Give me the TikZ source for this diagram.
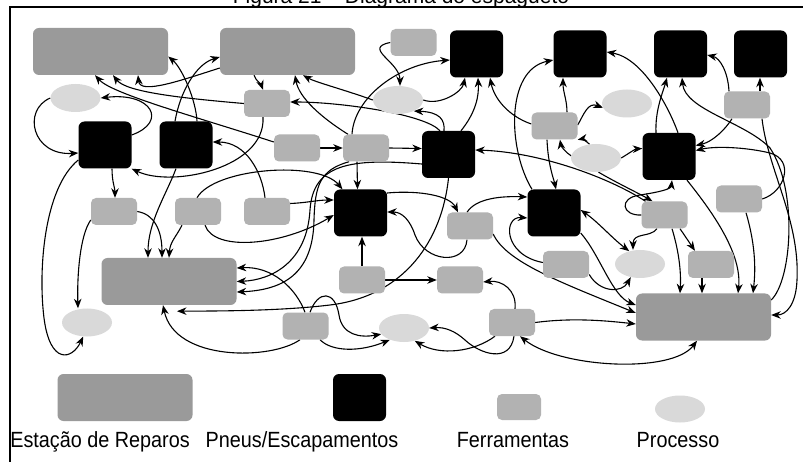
\documentclass[tikz,border=0pt]{standalone}
\usepackage{fontspec}
\setmainfont{Liberation Sans}
\newfontfamily\legendfont[FakeStretch=0.9]{Liberation Sans}
\usetikzlibrary{arrows.meta,shapes.geometric,backgrounds}
\definecolor{repgray}{HTML}{9A9A9A}
\definecolor{toolgray}{HTML}{B2B2B2}
\definecolor{procgray}{HTML}{D9D9D9}
\tikzset{
  rep/.style={fill=repgray, rounded corners=6pt, minimum width=135pt, minimum height=47pt, inner sep=0pt},
  pn/.style={fill=black, rounded corners=6pt, minimum width=53pt, minimum height=47pt, inner sep=0pt},
  tool/.style={fill=toolgray, rounded corners=5pt, minimum width=46pt, minimum height=27pt, inner sep=0pt},
  proc/.style={ellipse, fill=procgray, minimum width=50pt, minimum height=28pt, inner sep=0pt},
  tip/.tip={Stealth[length=9.5pt,width=7.5pt,inset=3pt]},
  arr/.style={draw, line width=1.1pt, -tip},
  darr/.style={draw, line width=1.1pt, tip-tip},
  legtext/.style={anchor=base, inner sep=0pt, font=\legendfont\fontsize{22}{26}\selectfont},
}
\begin{document}
\begin{tikzpicture}[x=1pt,y=-1pt]
\useasboundingbox (0,0) rectangle (803,462);

% title and frame
\node[anchor=base, inner sep=0pt, font=\fontsize{21}{24}\selectfont] (title) at (401,3.5) {Figura 21 – Diagrama do espagueto};
\draw[line width=1.2pt] (10,462) -- (10,7) -- (803,7);

% repair stations
\node[rep] (R1) at (100.5,51.5) {};
\node[rep] (R2) at (287.5,51.5) {};
\node[rep] (R3) at (169,281.5) {};
\node[rep] (R4) at (703.5,317) {};

% tyres / exhausts
\node[pn] (B1) at (105,145) {};
\node[pn] (B2) at (186,145) {};
\node[pn] (B3) at (476.5,54) {};
\node[pn] (B4) at (580,54) {};
\node[pn] (B5) at (680.5,54) {};
\node[pn] (B6) at (760.5,54) {};
\node[pn] (B7) at (448.5,154.5) {};
\node[pn] (B8) at (669,156.5) {};
\node[pn] (B9) at (360.5,213) {};
\node[pn] (B10) at (554,213) {};

% tools
\node[tool] (T1) at (413.5,42.5) {};
\node[tool] (T2) at (267,103.5) {};
\node[tool] (T3) at (297,148) {};
\node[tool] (T4) at (366,148) {};
\node[tool] (T5) at (554.5,126) {};
\node[tool] (T6) at (747,105) {};
\node[tool] (T7) at (114,211.5) {};
\node[tool] (T8) at (198,211.5) {};
\node[tool] (T9) at (267,211.5) {};
\node[tool] (T10) at (470,226) {};
\node[tool] (T11) at (664.5,215) {};
\node[tool] (T12) at (739,199) {};
\node[tool] (T13) at (362,280) {};
\node[tool] (T14) at (460,280) {};
\node[tool] (T15) at (566,264.5) {};
\node[tool] (T16) at (711,264.5) {};
\node[tool] (T17) at (305.5,326) {};
\node[tool] (T18) at (512,322.5) {};

% processes
\node[proc] (P1) at (75.5,98) {};
\node[proc] (P2) at (398,100) {};
\node[proc] (P3) at (627,103.5) {};
\node[proc] (P4) at (596,158) {};
\node[proc] (P5) at (640,264) {};
\node[proc] (P6) at (87,322.5) {};
\node[proc] (P7) at (404,328) {};

% legend
\node[rep] (LR) at (125,397.5) {};
\node[pn] (LB) at (359.5,397.5) {};
\node[tool, minimum width=44pt, minimum height=26pt] (LT) at (519,407) {};
\node[proc, minimum height=27pt] (LP) at (680,409) {};
\node[legtext] (lrep) at (100,447) {Estação de Reparos};
\node[legtext] (lpn) at (302,447) {Pneus/Escapamentos};
\node[legtext] (ltool) at (513,447) {Ferramentas};
\node[legtext] (lproc) at (678,447) {Processo};

\begin{pgfonlayer}{background}
\fill[white] (0,0) rectangle (803,462);
% around the upper repair stations
\draw[arr] ([xshift=11pt]B2.north) .. controls (196,100) and (182,68) .. ([yshift=-5pt]R1.east);
\draw[arr] ([xshift=-11pt]B2.north) .. controls (180,92) and (196,64) .. ([yshift=-5.5pt]R2.west);
\draw[arr] ([yshift=6pt]T3.west) .. controls (200,118) and (112,94) .. ([xshift=-5.5pt]R1.south);
\draw[arr] (T2.west) .. controls (180,98) and (126,92) .. ([xshift=12.5pt]R1.south);
\draw[arr] ([yshift=-16.5pt]R2.west) .. controls (182,80) and (140,95) .. ([xshift=37.5pt]R1.south);
\draw[arr] ([xshift=-33.5pt]R2.south) .. controls (256,81) and (261,84) .. ([xshift=-4pt]T2.north);
\draw[arr] ([xshift=-18pt]T4.north) .. controls (322,118) and (299,98) .. ([xshift=7.5pt]R2.south);
\draw[arr] (P2.west) .. controls (345,90) and (315,82) .. ([xshift=15.5pt]R2.south);
\draw[arr] ([xshift=-8.5pt]B7.north) .. controls (425,114) and (340,102) .. ([yshift=1.5pt]T2.east);
\draw[arr] (T1.west) .. controls (362,48) and (400,62) .. ([xshift=2pt]P2.north);
\draw[arr] ([xshift=-14pt]T4.north) .. controls (354,98) and (398,64) .. ([yshift=-6pt]B3.west);
\draw[arr] (P2.east) .. controls (440,106) and (462,92) .. ([xshift=-11.5pt]B3.south);
\draw[arr] ([xshift=12.5pt]B7.north) .. controls (476,112) and (479,96) .. ([xshift=1.5pt]B3.south);
\draw[arr] ([yshift=2pt]T5.west) .. controls (508,116) and (494,98) .. ([xshift=13.5pt]B3.south);
\draw[arr] ([xshift=-4.5pt]B7.north) .. controls (445,120) and (440,112) .. (P2.-35);

% left column
\draw[arr] ([yshift=10pt]B1.east) .. controls (168,122) and (152,92) .. (P1.east);
\draw[arr] (P1.west) .. controls (22,110) and (32,156) .. ([yshift=-8pt]B1.west);
\draw[arr] ([yshift=-15pt]B1.west) .. controls (44,188) and (38,270) .. (44,318) .. controls (50,365) and (72,360) .. (P6.-105);
\draw[arr] ([xshift=7pt]B1.south) .. controls (112,182) and (115,188) .. ([xshift=1pt]T7.north);
\draw[arr] (T7.200) .. controls (80,235) and (77,275) .. ([xshift=-9pt]P6.north);
\draw[arr] (T7.east) .. controls (154,214) and (162,230) .. ([xshift=-7pt]R3.north);
\draw[arr] ([xshift=-10pt]B2.south) .. controls (166,195) and (148,222) .. ([xshift=-21pt]R3.north);
\draw[arr] ([xshift=-16pt]T8.south) .. controls (176,237) and (170,242) .. (R3.north);
\draw[arr] ([xshift=-1pt]T8.north) .. controls (214,168) and (318,160) .. ([xshift=-18pt]B9.north);
\draw[arr] ([xshift=7pt]T8.south) .. controls (214,252) and (282,246) .. ([yshift=-2pt]B9.west);
\draw[arr] ([yshift=8pt]T9.east) .. controls (305,203) and (318,200) .. ([yshift=13pt]B9.west);
\draw[arr] ([xshift=-2pt]T9.north) .. controls (262,172) and (246,142) .. ([yshift=3pt]B2.east);
\draw[arr] ([xshift=-4pt]T2.south) .. controls (266,168) and (172,188) .. (B1.south east);

% middle
\draw[arr] (T3.east) -- (T4.west);
\draw[arr] (T4.east) -- ([yshift=6pt]B7.west);
\draw[arr] ([xshift=-9pt]T4.south) -- ([xshift=-3pt]B9.north);
\draw[arr] ([yshift=-9.5pt]B7.west) .. controls (350,158) and (313,164) .. (310,210) .. controls (307,262) and (272,280) .. (R3.east);
\draw[arr] ([xshift=-17pt]T4.south) .. controls (320,170) and (315,185) .. (314,220) .. controls (313,275) and (282,290) .. ([yshift=-10.5pt]R3.east);
\draw[arr] ([xshift=-0.5pt]T17.north) .. controls (296,288) and (272,266) .. ([yshift=13.5pt]R3.east);
\draw[arr] (B7.south) .. controls (442,240) and (405,296) .. (330,305) .. controls (280,311) and (220,311) .. ([xshift=8pt,yshift=-6pt]R3.south);
\draw[arr] ([xshift=-5.5pt]T17.south) .. controls (272,360) and (175,362) .. ([xshift=-6pt]R3.south);
\draw[arr] ([xshift=4.5pt]T17.north) .. controls (318,290) and (335,290) .. (339,315) .. controls (342,335) and (360,338) .. (P7.195);
\draw[arr] ([xshift=14.5pt]T17.south) .. controls (332,352) and (360,352) .. (P7.220);
\draw[arr] ([xshift=-17pt]T18.south) .. controls (474,352) and (440,356) .. (P7.-50);
\draw[arr] ([xshift=2pt]T18.south) .. controls (510,364) and (480,354) .. (465,340) .. controls (455,331) and (445,327) .. (P7.east);
\draw[arr] ([xshift=3pt]T18.north) .. controls (517,290) and (502,280) .. ([yshift=-2pt]T14.east);
\draw[arr] (T18.east) .. controls (570,318) and (600,320) .. ([yshift=-7pt]R4.west);
\draw[darr] ([xshift=8pt]T18.south) .. controls (560,368) and (672,374) .. ([xshift=-6.5pt]R4.south);
\draw[arr] (T13.north) -- ([xshift=1.5pt]B9.south);
\draw[arr] (T13.east) -- (T14.west);
\draw[arr] ([yshift=20pt]B9.east) .. controls (420,190) and (450,196) .. ([xshift=-12pt]T10.north);
\draw[arr] ([xshift=-3pt]T10.south) .. controls (465,266) and (425,262) .. (415,235) .. controls (410,220) and (402,212) .. ([yshift=1pt]B9.east);
\draw[arr] ([xshift=-3pt]T10.north) .. controls (476,198) and (502,196) .. ([yshift=16pt]B10.west);

% right part
\draw[arr] ([yshift=-8pt]T10.east) .. controls (506,262) and (560,282) .. ([yshift=4pt]R4.west);
\draw[arr] ([yshift=-20pt]B10.east) .. controls (600,255) and (612,296) .. ([yshift=12pt]R4.west);
\draw[darr] ([yshift=3pt]B10.east) .. controls (598,222) and (612,238) .. (P5.130);
\draw[arr] ([yshift=-10pt]T15.east) .. controls (600,293) and (622,293) .. (P5.-125);
\draw[arr] ([yshift=2pt]T15.west) .. controls (503,255) and (503,216) .. ([yshift=-5pt]B10.west);
\draw[arr] ([xshift=-7.5pt]T5.south) .. controls (548,165) and (554,180) .. ([xshift=2pt]B10.north);
\draw[arr] ([xshift=-22pt]B10.north) .. controls (508,150) and (505,70) .. ([yshift=-6pt]B4.west);
\draw[arr] ([xshift=12.5pt]T5.north) .. controls (567,100) and (563,92) .. ([xshift=-17pt]B4.south);
\draw[arr] ([yshift=1pt]T5.east) .. controls (584,114) and (588,102) .. (P3.190);
\draw[arr] (P4.115) .. controls (585,140) and (581,139) .. (T5.south east);
\draw[arr] (P4.175) .. controls (565,152) and (561,146) .. ([xshift=5.5pt]T5.south);
\draw[arr] (P4.east) .. controls (628,154) and (635,149) .. ([yshift=8pt]B8.west);
\draw[arr] (P4.-80) .. controls (615,182) and (640,194) .. ([xshift=-12pt]T11.north);
\draw[arr] ([xshift=-19pt]T11.north) .. controls (610,178) and (540,152) .. ([yshift=4.5pt]B7.east);
\draw[arr] (T11.west) .. controls (622,216) and (618,198) .. (640,195) .. controls (660,192) and (671,189) .. ([xshift=3pt]B8.south);
\draw[arr] ([xshift=-7.5pt]T11.south) .. controls (650,238) and (633,232) .. ([xshift=-7pt]P5.north);
\draw[arr] ([xshift=7.5pt]T11.south) .. controls (680,255) and (681,275) .. ([xshift=-23.5pt]R4.north);
\draw[arr] ([xshift=15.5pt]T11.south) -- ([xshift=-16pt]T16.north);
\draw[arr] ([xshift=-9pt]T16.south) -- ([xshift=-1.5pt]R4.north);
\draw[arr] ([xshift=18pt]B8.south) .. controls (715,215) and (742,255) .. ([xshift=34.5pt]R4.north);
\draw[arr] ([xshift=7pt]T12.south) .. controls (757,250) and (755,275) .. ([xshift=49.5pt]R4.north);
\draw[arr] (T12.east) .. controls (785,192) and (795,160) .. (770,153) .. controls (745,147) and (715,146) .. ([yshift=6pt]B8.east);
\draw[arr] ([xshift=-15pt]T6.south) .. controls (725,130) and (712,142) .. ([yshift=11pt]B8.east);
\draw[arr] ([xshift=15pt]T6.south) .. controls (768,170) and (800,220) .. (797,280) .. controls (796,305) and (786,315) .. ([yshift=2pt]R4.east);
\draw[arr] ([yshift=17pt]R4.east) .. controls (792,280) and (798,190) .. (770,148) .. controls (745,122) and (685,110) .. ([xshift=1.5pt]B5.south);
\draw[arr] ([xshift=13pt]T6.north) -- ([xshift=-0.5pt]B6.south);
\draw[arr] ([xshift=-18pt]T6.north) .. controls (728,72) and (720,58) .. ([yshift=-1pt]B5.east);
\draw[arr] ([xshift=-13pt]B8.north) .. controls (655,110) and (663,92) .. ([xshift=-13.5pt]B5.south);
\draw[arr] ([xshift=9pt]B8.north) .. controls (668,105) and (642,58) .. ([yshift=2pt]B4.east);
\end{pgfonlayer}
\end{tikzpicture}
\end{document}
